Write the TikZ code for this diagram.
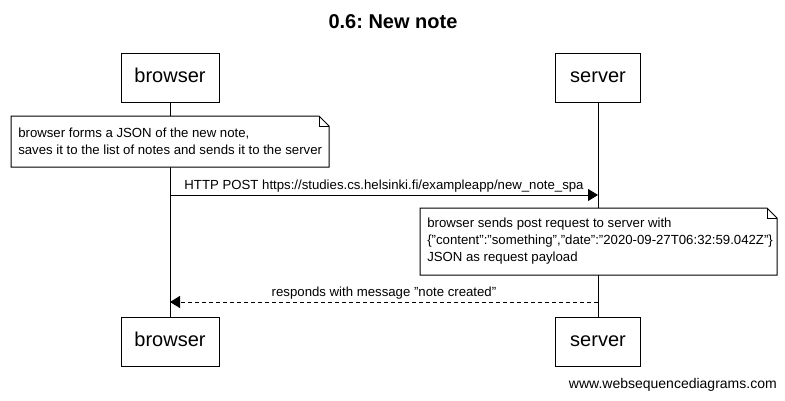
\documentclass[tikz,border=0pt]{standalone}
\usepackage{fontspec}
\setmainfont{Liberation Sans}
\usetikzlibrary{arrows.meta,positioning}
\frenchspacing

\begin{document}
\begin{tikzpicture}[
    x=0.75pt, y=-0.75pt,
    actor/.style={rectangle, draw, line width=0.75pt, minimum height=36.75pt, inner xsep=10pt, text height=11pt, text depth=3pt, font=\fontsize{15}{18}\selectfont},
    note/.style={rectangle, inner sep=0pt, align=left, anchor=west, font=\fontsize{9.9}{12.75}\selectfont},
    notebox/.style={line width=0.75pt, fill=white},
    lifeline/.style={line width=0.75pt},
    msg/.style={line width=0.75pt, -{Triangle[length=7.5pt,width=9pt]}},
    label/.style={above, inner sep=2pt, font=\fontsize{9.9}{12}\selectfont}
]
\useasboundingbox (0,0) rectangle (785,400);

% title
\node[font=\bfseries\fontsize{15}{18}\selectfont] (title) at (393,22) {0.6: New note};

% participants
\node[actor, minimum width=73.5pt] (browser) at (170,77.5) {browser};
\node[actor, minimum width=63.75pt] (server) at (598,77.5) {server};
\node[actor, minimum width=73.5pt] (browserB) at (170,341.5) {browser};
\node[actor, minimum width=63.75pt] (serverB) at (598,341.5) {server};

\draw[lifeline] (browser) -- (browserB);
\draw[lifeline] (server) -- (serverB);

% note outlines (folded corner)
\coordinate (n1nw) at (11,116);  \coordinate (n1se) at (329,167);
\coordinate (n2nw) at (420,208); \coordinate (n2se) at (777,275);
\foreach \n in {n1,n2} {
    \draw[notebox] (\n nw) -- ([xshift=-7.5pt]\n nw -| \n se) -- ([yshift=-7.5pt]\n nw -| \n se)
        -- (\n se) -- (\n nw |- \n se) -- cycle;
    \draw[line width=0.75pt] ([xshift=-7.5pt]\n nw -| \n se) |- ([yshift=-7.5pt]\n nw -| \n se);
}

% note texts
\node[note] (note1) at (18,141.5)
    {browser forms a JSON of the new note,\\saves it to the list of notes and sends it to the server};
\node[note] (note2) at (427,241.5)
    {browser sends post request to server with\\\{"content":"something","date":"2020-09-27T06:32:59.042Z"\}\\JSON as request payload};

% messages
\coordinate (post1) at (170,195);
\coordinate (post2) at (598,195);
\coordinate (resp1) at (598,302);
\coordinate (resp2) at (170,302);
\draw[msg] (post1) -- node[label] {HTTP POST https://studies.cs.helsinki.fi/exampleapp/new\_note\_spa} (post2);
\draw[msg, dash pattern=on 3pt off 2.25pt] (resp1) -- node[label] {responds with message "note created"} (resp2);

% watermark
\node[anchor=east, inner sep=0pt, font=\fontsize{10.5}{12}\selectfont] (wsd) at (777,385) {www.websequencediagrams.com};

\end{tikzpicture}
\end{document}
